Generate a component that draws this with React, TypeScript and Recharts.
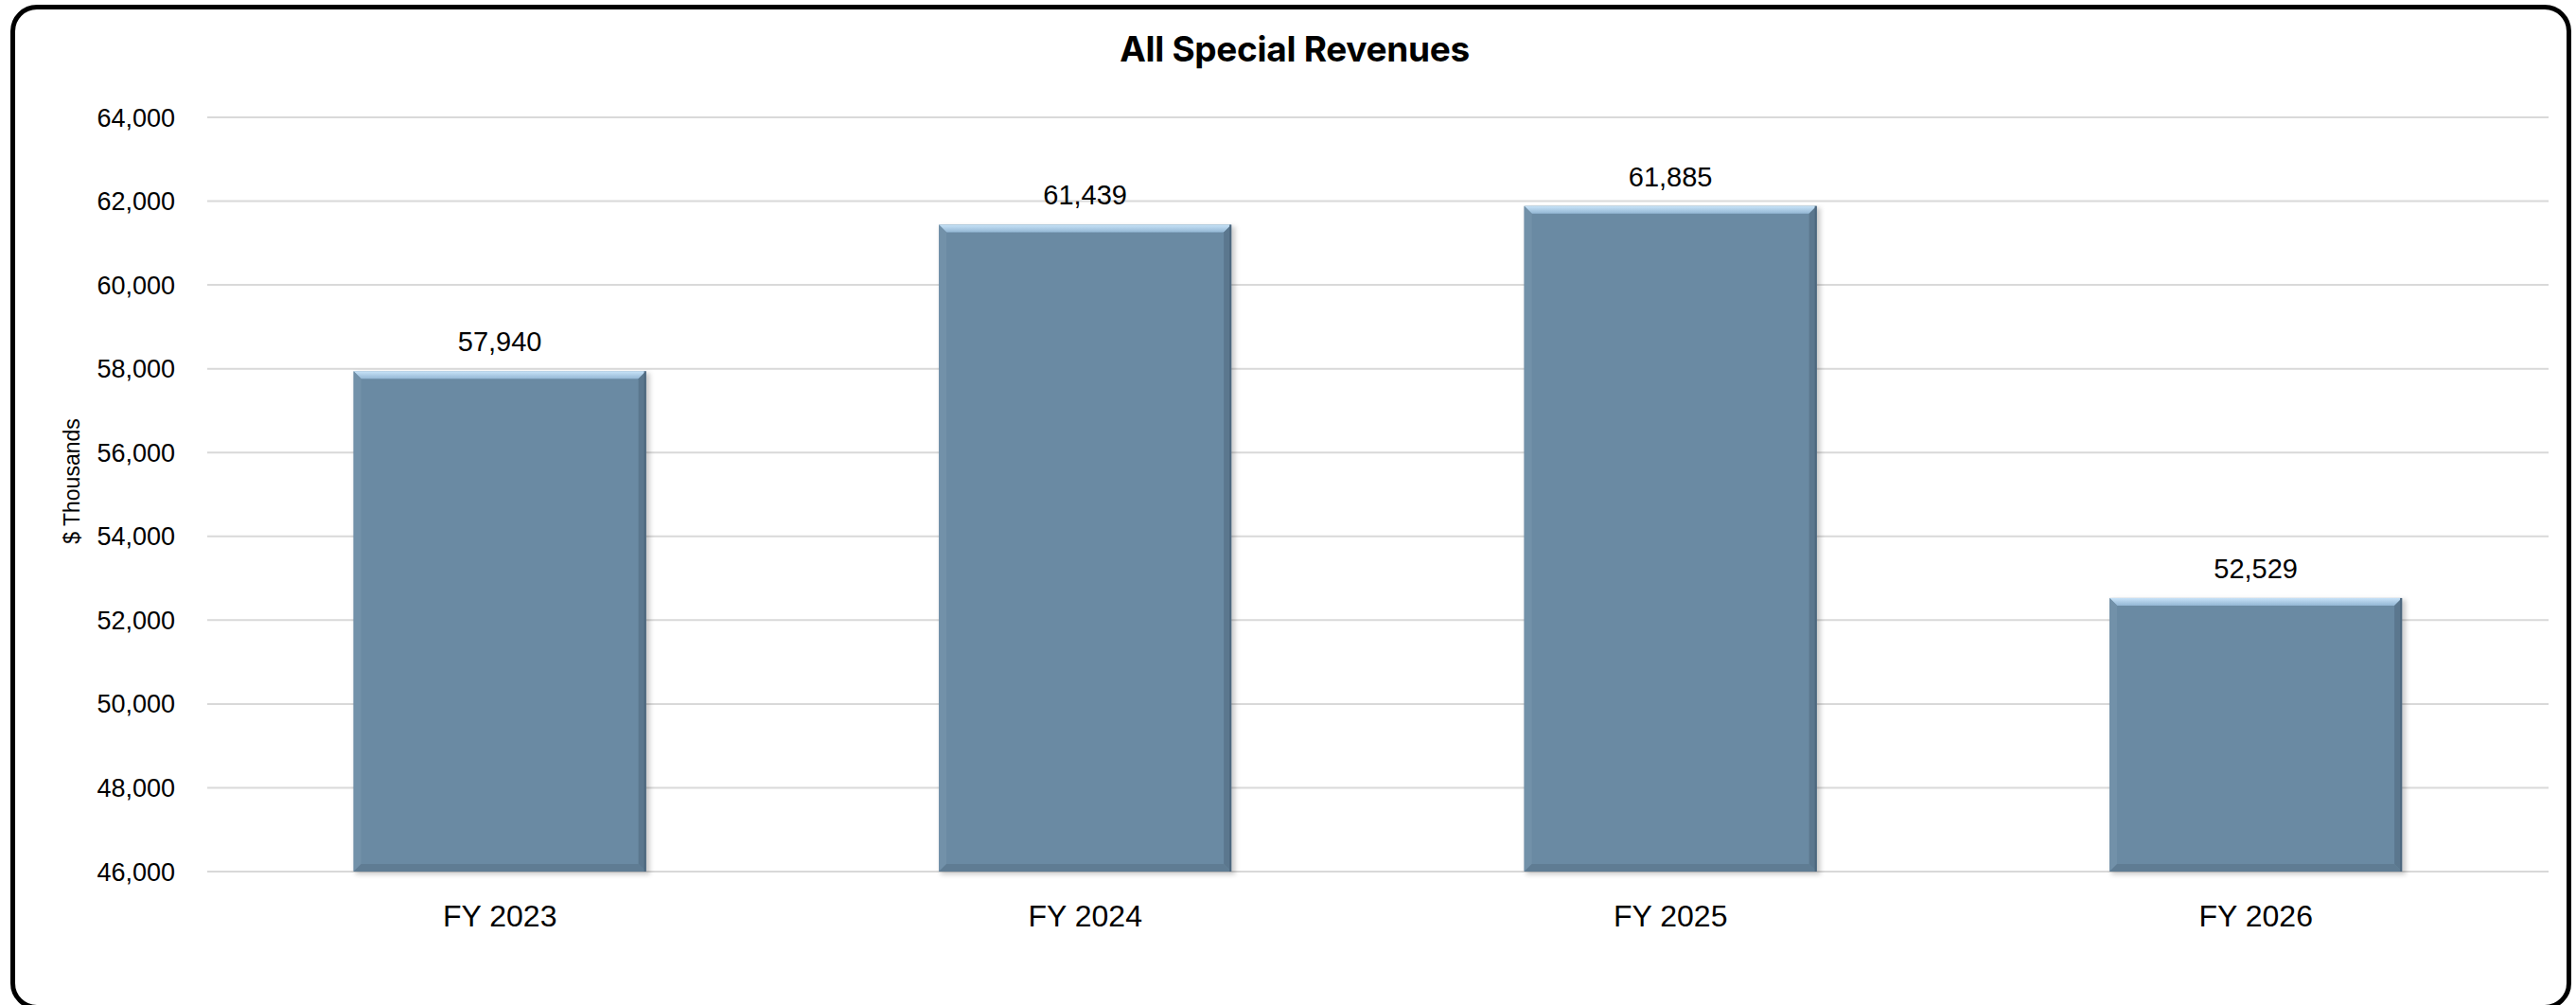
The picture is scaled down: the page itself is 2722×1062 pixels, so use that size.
import React from 'react';
import { BarChart, Bar, XAxis, YAxis, CartesianGrid, LabelList } from 'recharts';

const years = ['FY 2023', 'FY 2024', 'FY 2025', 'FY 2026'];
const revenues = [57940, 61439, 61885, 52529];
const yTicks = [46000, 48000, 50000, 52000, 54000, 56000, 58000, 60000, 62000, 64000];

const data = years.map((name, i) => ({ name, value: revenues[i] }));

const fmt = (v: number) => v.toLocaleString('en-US');

// bar with a bevelled edge and soft drop shadow
const BevelBar = (props: any) => {
  const { x, y, width: w, height: h, index } = props;
  if (!w || !h) return null;
  const b = 8;
  const gid = `bevelTop${index}`;
  const fid = `barShadow${index}`;
  return (
    <g>
      <defs>
        <linearGradient id={gid} x1="0" y1="0" x2="0" y2="1">
          <stop offset="0%" stopColor="#c8e3f8" />
          <stop offset="100%" stopColor="#94b7d4" />
        </linearGradient>
        <filter id={fid} x="-10%" y="-10%" width="120%" height="120%">
          <feGaussianBlur stdDeviation="2.5" />
        </filter>
      </defs>
      <rect x={x + 2} y={y + 2} width={w + 2} height={h + 1} fill="rgba(0,0,0,0.2)" filter={`url(#${fid})`} />
      <rect x={x} y={y} width={w} height={h} fill="#6a8aa3" />
      <polygon points={`${x},${y} ${x + w},${y} ${x + w - b},${y + b} ${x + b},${y + b}`} fill={`url(#${gid})`} />
      <polygon points={`${x},${y} ${x + b},${y + b} ${x + b},${y + h - b} ${x},${y + h}`} fill="#7291a9" />
      <polygon points={`${x + w},${y} ${x + w},${y + h} ${x + w - b},${y + h - b} ${x + w - b},${y + b}`} fill="#5b778e" />
      <polygon points={`${x},${y + h} ${x + b},${y + h - b} ${x + w - b},${y + h - b} ${x + w},${y + h}`} fill="#5f7c93" />
      <line x1={x + w - 1} y1={y} x2={x + w - 1} y2={y + h} stroke="#4d677e" strokeWidth={2} />
    </g>
  );
};

const AxisTitle = (props: any) => {
  const vb = props.viewBox;
  const cx = vb.x + 76;
  const cy = vb.y + vb.height / 2 - 14;
  return (
    <text
      x={cx}
      y={cy}
      transform={`rotate(-90, ${cx}, ${cy})`}
      textAnchor="middle"
      dominantBaseline="central"
      fontSize={23}
      fill="#000"
      fontFamily="'Liberation Sans', Arial, sans-serif"
    >
      $ Thousands
    </text>
  );
};

export default function App() {
  return (
    <div style={{ position: 'absolute', left: 0, top: 0, width: 2722, height: 1062, background: '#fff', overflow: 'hidden' }}>
      <div
        style={{
          position: 'absolute',
          left: 11,
          top: 5,
          width: 2706,
          height: 1062,
          border: '5px solid #000',
          borderRadius: 28,
          boxSizing: 'border-box',
        }}
      />
      <div
        style={{
          position: 'absolute',
          left: 0,
          top: 30,
          width: 2736,
          textAlign: 'center',
          fontFamily: 'Inter, sans-serif',
          fontWeight: 700,
          fontSize: 37,
          lineHeight: '44px',
          letterSpacing: -0.3,
          color: '#000',
        }}
      >
        All Special Revenues
      </div>
      <BarChart
        width={2722}
        height={1062}
        data={data}
        margin={{ top: 124, right: 29, bottom: 111, left: 0 }}
        barCategoryGap="25%"
        style={{ position: 'absolute', left: 0, top: 0, fontFamily: "'Liberation Sans', Arial, sans-serif" }}
      >
        <CartesianGrid vertical={false} stroke="#d9d9d9" strokeWidth={2} />
        <XAxis
          dataKey="name"
          axisLine={false}
          tickLine={false}
          tickMargin={29}
          tick={{ fontSize: 32, fill: '#000' }}
        />
        <YAxis
          width={219}
          domain={[46000, 64000]}
          ticks={yTicks}
          axisLine={false}
          tickLine={false}
          tickMargin={28}
          tickFormatter={fmt}
          tick={{ fontSize: 27, fill: '#000' }}
          label={<AxisTitle />}
        />
        <Bar dataKey="value" shape={<BevelBar />} isAnimationActive={false}>
          <LabelList dataKey="value" position="top" offset={21} formatter={fmt} fontSize={29} fill="#000" />
        </Bar>
      </BarChart>
    </div>
  );
}
